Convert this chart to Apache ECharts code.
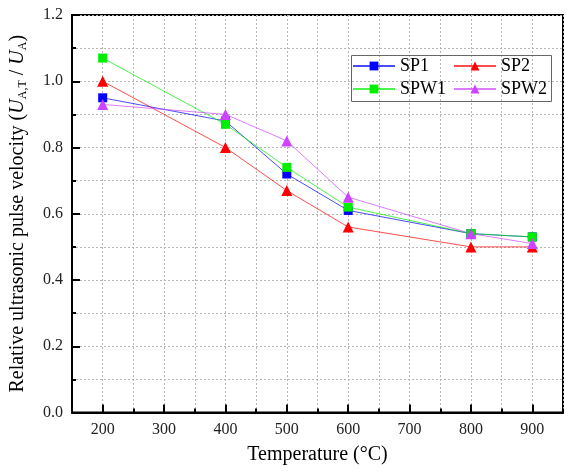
<!DOCTYPE html>
<html><head><meta charset="utf-8">
<script src="https://cdn.jsdelivr.net/npm/echarts@6/dist/echarts.min.js"></script>
<style>html,body{margin:0;padding:0;background:#fff}#c{width:566px;height:471px}</style>
</head><body><div id="c"></div>
<script>
var temperatures = [200, 400, 500, 600, 800, 900];
var sp1  = [0.95, 0.88, 0.72, 0.61, 0.54, 0.53];
var sp2  = [1.00, 0.80, 0.67, 0.56, 0.50, 0.50];
var spw1 = [1.07, 0.87, 0.74, 0.62, 0.54, 0.53];
var spw2 = [0.93, 0.90, 0.82, 0.65, 0.54, 0.51];
var seriesNames = ['SP1', 'SP2', 'SPW1', 'SPW2'];
var xTickValues = [150, 200, 250, 300, 350, 400, 450, 500, 550, 600, 650, 700, 750, 800, 850, 900, 950];
var xMajorLabels = ['200', '300', '400', '500', '600', '700', '800', '900'];

var FONT = 'Liberation Serif';
var chart = echarts.init(document.getElementById('c'), null, {renderer: 'canvas'});
function pts(arr) { return temperatures.map(function (t, i) { return [t, arr[i]]; }); }
var gridLine = {show: true, lineStyle: {color: '#b4b4b4', type: [2, 2], width: 1}};

var specs = [
  {name: seriesNames[0], data: sp1, color: '#0000ff', symbol: 'rect', size: 9},
  {name: seriesNames[1], data: sp2, color: '#ff0000', symbol: 'triangle', size: 11},
  {name: seriesNames[2], data: spw1, color: '#00ee00', symbol: 'rect', size: 9},
  {name: seriesNames[3], data: spw2, color: '#cc44ff', symbol: 'triangle', size: 11}
];

var option = {
  animation: false,
  backgroundColor: '#fff',
  textStyle: {fontFamily: FONT},
  grid: {left: 72, top: 15, width: 496, height: 397.5, show: true, borderColor: '#000', borderWidth: 2, backgroundColor: 'transparent'},
  xAxis: [{
    type: 'value', min: 150, max: 950, interval: 50,
    name: 'Temperature (°C)', nameLocation: 'middle', nameGap: 32,
    nameTextStyle: {fontFamily: FONT, fontSize: 20, color: '#000'},
    axisLine: {show: true, lineStyle: {color: '#000', width: 2}},
    axisTick: {show: true, inside: true, length: 4, lineStyle: {color: '#000', width: 2}},
    axisLabel: {show: true, margin: 9, fontFamily: FONT, fontSize: 16, color: '#222',
      formatter: function (v) { return xMajorLabels.indexOf(String(v)) >= 0 ? String(v) : ''; }},
    splitLine: gridLine
  }, {
    type: 'category', position: 'bottom', boundaryGap: false, data: xTickValues.map(String),
    axisLine: {show: false},
    axisTick: {show: true, inside: true, length: 8, lineStyle: {color: '#000', width: 2},
      interval: function (i, v) { return xMajorLabels.indexOf(v) >= 0; }},
    axisLabel: {show: false}, splitLine: {show: false}
  }],
  yAxis: {
    type: 'value', min: 0, max: 1.2, interval: 0.2,
    name: '{n|Relative ultrasonic pulse velocity (}{i|U}{s|A,T}{n| / }{i|U}{s|A}{n|)}',
    nameLocation: 'middle', nameGap: 43,
    nameTextStyle: {fontFamily: FONT, fontSize: 20, color: '#000',
      rich: {
        n: {fontFamily: FONT, fontSize: 20, color: '#000'},
        i: {fontFamily: FONT, fontSize: 20, fontStyle: 'italic', color: '#000'},
        s: {fontFamily: FONT, fontSize: 12, color: '#000', padding: [10, 0, 0, 0]}
      }},
    axisLine: {show: true, lineStyle: {color: '#000', width: 2}},
    axisTick: {show: true, inside: true, length: 8, lineStyle: {color: '#000', width: 2}},
    minorTick: {show: true, splitNumber: 2, length: 4, lineStyle: {color: '#000', width: 2}},
    axisLabel: {margin: 9, fontFamily: FONT, fontSize: 16, color: '#222',
      formatter: function (v) { return v.toFixed(1); }},
    splitLine: gridLine,
    minorSplitLine: gridLine
  },
  legend: [{
    left: 352, top: 57, padding: 0, orient: 'vertical', itemWidth: 42, itemHeight: 11, itemGap: 5,
    data: [seriesNames[0], seriesNames[2]], textStyle: {fontFamily: FONT, fontSize: 18, color: '#000'}
  }, {
    left: 453, top: 57, padding: 0, orient: 'vertical', itemWidth: 42, itemHeight: 11, itemGap: 5,
    data: [seriesNames[1], seriesNames[3]], textStyle: {fontFamily: FONT, fontSize: 18, color: '#000'}
  }],
  graphic: [{type: 'rect', left: 349, top: 53, shape: {width: 200, height: 46},
    style: {fill: 'none', stroke: '#666', lineWidth: 1}, z: 100}],
  series: specs.map(function (s) {
    return {
      name: s.name, type: 'line', xAxisIndex: 0, data: pts(s.data),
      symbol: s.symbol, symbolSize: s.size, showSymbol: true,
      itemStyle: {color: s.color}, lineStyle: {color: s.color, width: 1, opacity: 0.7},
      z: 3
    };
  })
};
chart.setOption(option);
</script></body></html>
